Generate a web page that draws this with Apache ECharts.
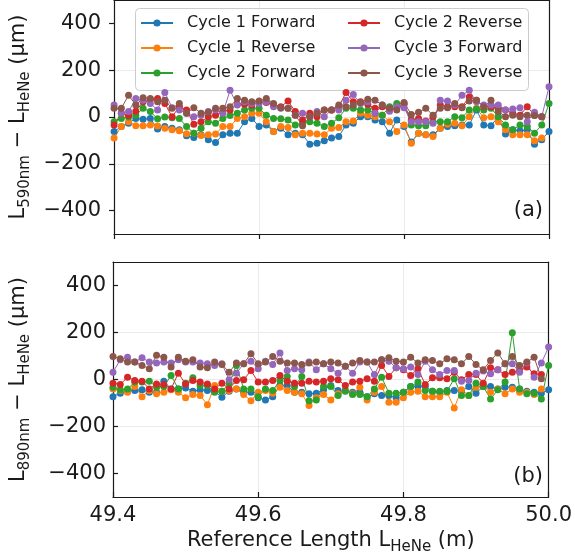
<!DOCTYPE html>
<html><head><meta charset="utf-8">
<script src="https://cdn.jsdelivr.net/npm/echarts@6/dist/echarts.min.js"></script>
<style>html,body{margin:0;padding:0;background:#fff}#c{width:575px;height:560px}</style>
</head><body><div id="c"></div>
<script>
const xValues = [49.40,49.41,49.42,49.43,49.44,49.45,49.46,49.47,49.48,49.49,49.50,49.51,49.52,49.53,49.54,49.55,49.56,49.57,49.58,49.59,49.60,49.61,49.62,49.63,49.64,49.65,49.66,49.67,49.68,49.69,49.70,49.71,49.72,49.73,49.74,49.75,49.76,49.77,49.78,49.79,49.80,49.81,49.82,49.83,49.84,49.85,49.86,49.87,49.88,49.89,49.90,49.91,49.92,49.93,49.94,49.95,49.96,49.97,49.98,49.99,50.00];
const seriesNames = ['Cycle 1 Forward','Cycle 1 Reverse','Cycle 2 Forward','Cycle 2 Reverse','Cycle 3 Forward','Cycle 3 Reverse'];
const seriesColors = ['#1f77b4','#ff7f0e','#2ca02c','#d62728','#9467bd','#8c564b'];
const yTicks = [-400,-200,0,200,400];
const xTicks = [49.4,49.6,49.8,50.0];

// (a) L590nm - LHeNe (um)
const top_C1F = [-62,-41,-27,-6,-10,-6,-51,-41,-48,-55,-80,-88,-76,-97,-109,-76,-69,-69,-20,-6,-41,-34,-62,-48,-76,-69,-76,-116,-112,-102,-90,-83,-34,-27,1,1,-13,-20,-69,-13,-41,-107,-69,-76,-76,-48,-41,-37,-34,-34,30,-34,-37,1,-73,-55,-59,-55,-116,-97,-62];
const top_C1R = [-90,-41,-20,-37,-37,-34,-38,-48,-55,-59,-72,-69,-79,-76,-73,-41,-41,-6,1,16,16,-20,-62,-41,-45,-76,-69,-69,-73,-76,-48,-45,-20,-17,16,8,1,8,-20,-62,-34,-112,-69,-76,-83,-48,-31,-27,-37,1,37,-3,1,-20,-55,-76,-76,-76,-102,-90,null];
const top_C2F = [-20,-6,0,8,37,23,-8,0,-3,-6,-41,-69,-48,-20,-27,-6,6,16,30,37,37,8,-6,-8,-13,-34,-27,-20,-27,-41,-27,-3,37,37,30,30,16,8,44,58,58,-34,-37,-37,-20,-20,-20,1,-3,30,34,30,37,1,-34,-55,-34,-41,-69,-34,58];
const top_C2R = [-34,16,6,25,65,75,79,58,1,44,30,-31,-20,1,8,23,30,54,54,51,65,62,51,44,68,23,-13,16,1,30,30,44,105,65,65,54,37,44,30,40,54,-13,-6,-17,1,51,44,44,44,86,72,44,44,37,30,16,8,44,8,1,null];
const top_C3F = [51,16,23,79,72,58,30,105,40,30,16,1,8,23,30,16,114,51,65,58,58,65,44,37,37,8,16,1,23,1,30,30,72,96,58,65,16,51,25,44,40,-20,-20,-20,-27,72,68,51,93,114,65,51,51,51,30,34,40,-20,20,1,129];
const top_C3R = [37,37,93,51,82,79,65,72,37,58,16,40,16,20,37,37,44,79,72,65,68,79,58,40,37,8,-37,1,16,30,30,51,44,51,62,76,72,51,37,30,62,11,20,37,8,37,40,58,40,68,72,44,72,25,1,8,1,8,6,1,null];

// (b) L890nm - LHeNe (um)
const bot_C1F = [-73,-58,-50,-47,-44,-54,-54,-7,-40,-40,-36,-50,-44,-47,-50,-75,-50,-40,-54,-54,-78,-87,-73,-26,-26,-54,-54,-61,-58,-44,-26,-47,-50,-54,-54,-73,-61,-68,-68,-78,-54,-30,-30,-30,-50,-54,-47,-47,-50,-30,-58,-30,-30,-40,-33,-33,-40,-50,-54,-58,-44];
const bot_C1R = [-40,-47,-54,-30,-73,-47,-61,-54,-44,-54,-78,-64,-68,-107,-26,-50,-47,-40,-64,-90,-54,-47,-58,-33,-47,-54,-61,-111,-78,-64,-87,-61,-47,-61,-33,-87,-54,-30,-97,-97,-78,-54,-50,-73,-73,-73,-54,-121,-44,-68,-33,-30,-54,-40,-61,-40,-54,-54,-64,-40,null];
const bot_C2F = [-33,-44,-40,-11,-11,-7,-33,-30,17,-40,-16,7,-26,-26,-54,-50,-16,60,-40,-40,-73,-40,-47,-4,13,-30,13,-90,-87,-30,-30,-68,-47,-64,-64,-73,-40,10,-58,-58,-54,-30,-11,-47,-50,-50,-50,3,-68,-68,-16,-30,-83,-44,-11,199,-40,-61,-58,-83,60];
const bot_C2R = [-16,-21,10,-4,-7,-40,-19,-21,-40,27,-19,-4,-11,-19,-40,-16,-40,-4,-1,38,-11,-11,-4,17,-7,-16,-16,-7,-11,-7,3,-1,-26,-11,-7,3,-7,60,13,50,41,17,46,-21,7,7,3,31,-1,21,21,-16,50,41,21,31,36,53,24,21,null];
const bot_C3F = [31,84,95,74,93,74,70,74,70,84,74,74,70,67,60,67,-1,27,67,78,46,78,64,113,38,46,41,74,41,67,46,27,56,27,74,74,21,84,78,50,46,53,21,78,41,21,38,38,-7,-4,27,36,24,41,67,67,31,70,10,70,138];
const bot_C3R = [98,88,74,74,60,46,103,95,53,95,78,84,53,50,74,64,31,70,67,110,67,74,98,78,70,70,64,70,74,67,74,70,56,70,81,74,74,84,93,78,74,95,70,84,81,67,88,84,67,98,64,41,81,113,67,98,60,74,95,3,null];

const topData = [top_C1F, top_C1R, top_C2F, top_C2R, top_C3F, top_C3R];
const botData = [bot_C1F, bot_C1R, bot_C2F, bot_C2R, bot_C3F, bot_C3R];

const FONT = 'DejaVu Sans';
const INK = '#1a1a1a';
const GRIDC = '#ebebeb';
const fmtY = v => (v < 0 ? '\u2212' + (-v) : String(v));

function mkSeries(arrs, g) {
  return arrs.map((arr, k) => ({
    name: seriesNames[k], type: 'line', xAxisIndex: g, yAxisIndex: g,
    data: arr.map((v, i) => [xValues[i], v]),
    symbol: 'circle', symbolSize: 7, showSymbol: true, connectNulls: false,
    itemStyle: { color: seriesColors[k] },
    lineStyle: { color: seriesColors[k], width: 1 },
    emphasis: { disabled: true }, animation: false, clip: true
  }));
}

const splitCfg = { show: true, showMinLine: false, showMaxLine: false, lineStyle: { color: GRIDC, width: 1 } };
const frameLine = { show: true, onZero: false, lineStyle: { color: INK, width: 1.2 } };

function yAxisCfg(g, sub, inside) {
  return {
    gridIndex: g, type: 'value', min: -500, max: 500,
    axisLine: frameLine,
    axisTick: { show: true, customValues: yTicks, inside: inside, length: 5, lineStyle: { color: INK, width: 1.2 } },
    axisLabel: { customValues: yTicks, formatter: fmtY, fontSize: 21, color: INK, fontFamily: FONT, margin: inside ? 7 : 13 },
    splitLine: splitCfg,
    name: '{a|L}{b|' + sub + '}{a| \u2212 L}{b|HeNe}{a| (\u03bcm)}',
    nameLocation: 'middle', nameRotate: 90, nameGap: 80,
    nameTextStyle: { fontFamily: FONT, color: INK, rich: {
      a: { fontSize: 21, fontFamily: FONT, color: INK, lineHeight: 28 },
      b: { fontSize: 15, fontFamily: FONT, color: INK, lineHeight: 14, verticalAlign: 'bottom' }
    } }
  };
}
function frameY(g) {
  return { gridIndex: g, type: 'value', position: 'right', min: -500, max: 500,
    axisLine: frameLine, axisTick: { show: false }, axisLabel: { show: false }, splitLine: { show: false } };
}
function frameX(g) {
  return { gridIndex: g, type: 'value', position: 'top', min: 49.4, max: 50.0,
    axisLine: frameLine, axisTick: { show: false }, axisLabel: { show: false }, splitLine: { show: false } };
}

const option = {
  backgroundColor: '#fff',
  animation: false,
  grid: [
    { left: 113, top: -1, width: 436, height: 235, show: false },
    { left: 113, top: 262, width: 436, height: 235, show: false }
  ],
  xAxis: [
    { gridIndex: 0, type: 'value', min: 49.4, max: 50.0, interval: 0.2,
      axisLine: frameLine,
      axisTick: { show: true, inside: false, length: 5, lineStyle: { color: INK, width: 1.2 } },
      axisLabel: { show: false },
      splitLine: splitCfg },
    { gridIndex: 1, type: 'value', min: 49.4, max: 50.0, interval: 0.2,
      axisLine: frameLine,
      axisTick: { show: true, inside: true, length: 5, lineStyle: { color: INK, width: 1.2 } },
      axisLabel: { fontSize: 21, color: INK, fontFamily: FONT, margin: 8, formatter: v => v.toFixed(1) },
      splitLine: splitCfg,
      name: '{a|Reference Length L}{b|HeNe}{a| (m)}',
      nameLocation: 'middle', nameGap: 30,
      nameTextStyle: { fontFamily: FONT, color: INK, rich: {
        a: { fontSize: 21, fontFamily: FONT, color: INK, lineHeight: 28 },
        b: { fontSize: 15, fontFamily: FONT, color: INK, lineHeight: 14, verticalAlign: 'bottom' }
      } } },
    frameX(0), frameX(1)
  ],
  yAxis: [ yAxisCfg(0, '590nm', false), yAxisCfg(1, '890nm', true), frameY(0), frameY(1) ],
  legend: [
    { data: seriesNames.slice(0, 3), left: 140, top: 14, orient: 'vertical', itemGap: 7, itemWidth: 32, itemHeight: 9,
      padding: 0, textStyle: { fontSize: 16, fontFamily: FONT, color: INK, padding: [0, 0, 0, 9], lineHeight: 18 }, selectedMode: false },
    { data: seriesNames.slice(3, 6), left: 347, top: 14, orient: 'vertical', itemGap: 7, itemWidth: 32, itemHeight: 9,
      padding: 0, textStyle: { fontSize: 16, fontFamily: FONT, color: INK, padding: [0, 0, 0, 9], lineHeight: 18 }, selectedMode: false }
  ],
  graphic: [
    { type: 'rect', left: 135, top: 8, z: 3, shape: { width: 393, height: 82, r: 4 },
      style: { fill: 'rgba(255,255,255,0.85)', stroke: '#cccccc', lineWidth: 1 } },
    { type: 'text', right: 32, top: 200, z: 10, style: { text: '(a)', fontSize: 21, fontFamily: FONT, fill: INK } },
    { type: 'text', right: 32, top: 466, z: 10, style: { text: '(b)', fontSize: 21, fontFamily: FONT, fill: INK } }
  ],
  series: mkSeries(topData, 0).concat(mkSeries(botData, 1))
};

const chart = echarts.init(document.getElementById('c'), null, { renderer: 'canvas' });
chart.setOption(option);
</script>
</body></html>
